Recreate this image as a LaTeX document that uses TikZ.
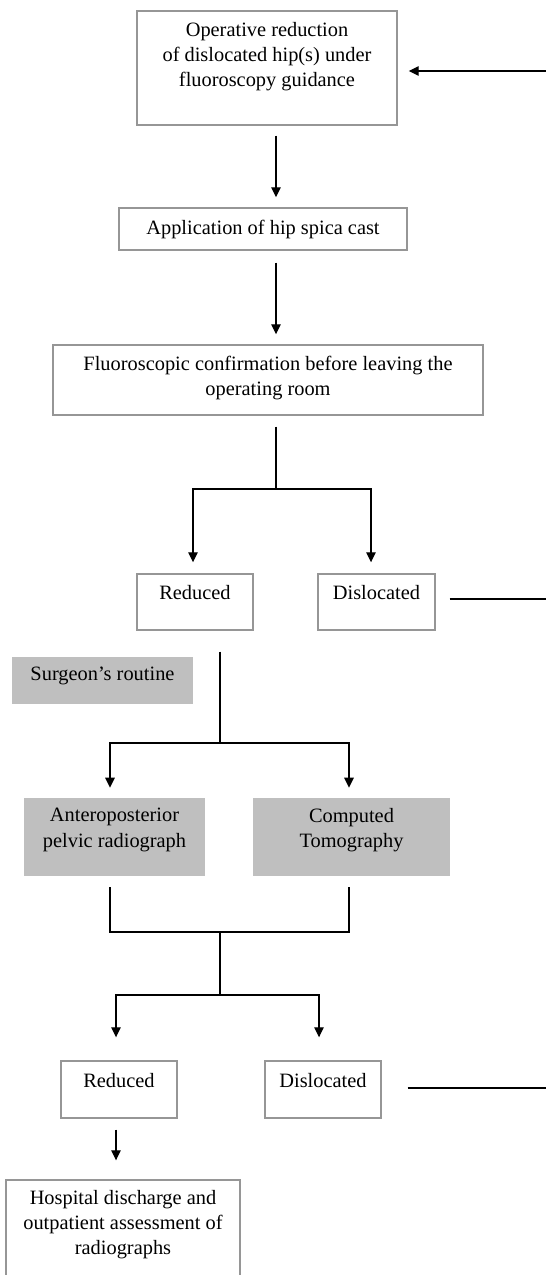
\documentclass[tikz,border=0pt]{standalone}
\usepackage{fontspec}
\setmainfont{Liberation Serif}
\usetikzlibrary{arrows.meta}

\begin{document}
\begin{tikzpicture}[
    flowbox/.style={shape=rectangle,draw=flow_border,line width=0.8pt,fill=white,align=center,inner sep=0pt,font=\fontsize{11.6}{14.3}\selectfont},
    greybox/.style={shape=rectangle,fill=flow_grey,align=center,inner sep=0pt,font=\fontsize{11.6}{14.3}\selectfont},
    link/.style={line width=0.75pt},
    linkarrow/.style={link,-{Triangle[length=0.2cm,width=0.19cm]}}
  ]
    \definecolor{flow_border}{RGB}{150,150,150}
    \definecolor{flow_grey}{RGB}{191,191,191}
    \useasboundingbox (0,0) rectangle (10.92,-25.5);
    \clip (0,0) rectangle (10.92,-25.5);
    \node[flowbox,minimum width=5.2cm,minimum height=2.28cm,text depth=0.53cm] (op) at (5.34,-1.36) {Operative reduction\\of dislocated hip(s) under\\fluoroscopy guidance};
    \node[flowbox,minimum width=5.76cm,minimum height=0.84cm] (cast) at (5.26,-4.58) {Application of hip spica cast};
    \node[flowbox,minimum width=8.6cm,minimum height=1.4cm,text depth=0.15cm] (fluoro) at (5.36,-7.6) {Fluoroscopic confirmation before leaving the\\operating room};
    \node[flowbox,minimum width=2.32cm,minimum height=1.12cm,text depth=0.37cm] (red1) at (3.9,-12.04) {Reduced};
    \node[flowbox,minimum width=2.34cm,minimum height=1.12cm,text depth=0.37cm] (dis1) at (7.53,-12.04) {Dislocated};
    \node[greybox,minimum width=3.62cm,minimum height=0.94cm,text depth=0.26cm] (surg) at (2.05,-13.61) {Surgeon’s routine};
    \node[greybox,minimum width=3.62cm,minimum height=1.56cm,text depth=0.37cm] (ap) at (2.29,-16.74) {Anteroposterior\\pelvic radiograph};
    \node[greybox,minimum width=3.94cm,minimum height=1.56cm,text depth=0.37cm] (ct) at (7.03,-16.74) {Computed\\Tomography};
    \node[flowbox,minimum width=2.32cm,minimum height=1.14cm,text depth=0.37cm] (red2) at (2.38,-21.79) {Reduced};
    \node[flowbox,minimum width=2.32cm,minimum height=1.14cm,text depth=0.37cm] (dis2) at (6.46,-21.79) {Dislocated};
    \node[flowbox,minimum width=4.68cm,minimum height=2.0cm,text depth=0.29cm] (hosp) at (2.46,-24.6) {Hospital discharge and\\outpatient assessment of\\radiographs};
    \coordinate (spine) at (5.52,0);
    \coordinate (split1) at (5.52,-9.78);
    \coordinate (split2) at (4.4,-14.86);
    \coordinate (join) at (4.4,-18.64);
    \coordinate (split3) at (4.4,-19.9);
    \coordinate (back0) at (10.92,-1.42);
    \coordinate (back1) at (10.92,-11.98);
    \coordinate (back2) at (10.92,-21.76);
    \draw[linkarrow,shorten >=0.22cm] (back0) to (op.east |- back0);
    \draw[linkarrow,shorten <=0.2cm,shorten >=0.2cm] (op.south -| spine) to (cast.north -| spine);
    \draw[linkarrow,shorten <=0.24cm,shorten >=0.2cm] (cast.south -| spine) to (fluoro.north -| spine);
    \draw[link,shorten <=0.22cm] (fluoro.south -| spine) to (split1);
    \draw[linkarrow,shorten >=0.22cm] (split1) -| ([xshift=-0.04cm]red1.north);
    \draw[linkarrow,shorten >=0.22cm] (split1) -| ([xshift=-0.11cm]dis1.north);
    \draw[link,shorten <=0.28cm] (dis1.east |- back1) to (back1);
    \draw[link,shorten <=0.42cm] (red1.south -| split2) to (split2);
    \draw[linkarrow,shorten >=0.2cm] (split2) -| ([xshift=-0.09cm]ap.north);
    \draw[linkarrow,shorten >=0.2cm] (split2) -| ([xshift=-0.05cm]ct.north);
    \draw[link,shorten <=0.22cm] ([xshift=-0.09cm]ap.south) |- (join);
    \draw[link,shorten <=0.22cm] ([xshift=-0.05cm]ct.south) |- (join);
    \draw[link] (join) to (split3);
    \draw[linkarrow,shorten >=0.46cm] (split3) -| ([xshift=-0.06cm]red2.north);
    \draw[linkarrow,shorten >=0.46cm] (split3) -| ([xshift=-0.08cm]dis2.north);
    \draw[link,shorten <=0.52cm] (dis2.east |- back2) to (back2);
    \draw[linkarrow,shorten <=0.22cm,shorten >=0.38cm] ([xshift=-0.06cm]red2.south) to ([xshift=-0.06cm]red2.south |- hosp.north);
\end{tikzpicture}
\end{document}
